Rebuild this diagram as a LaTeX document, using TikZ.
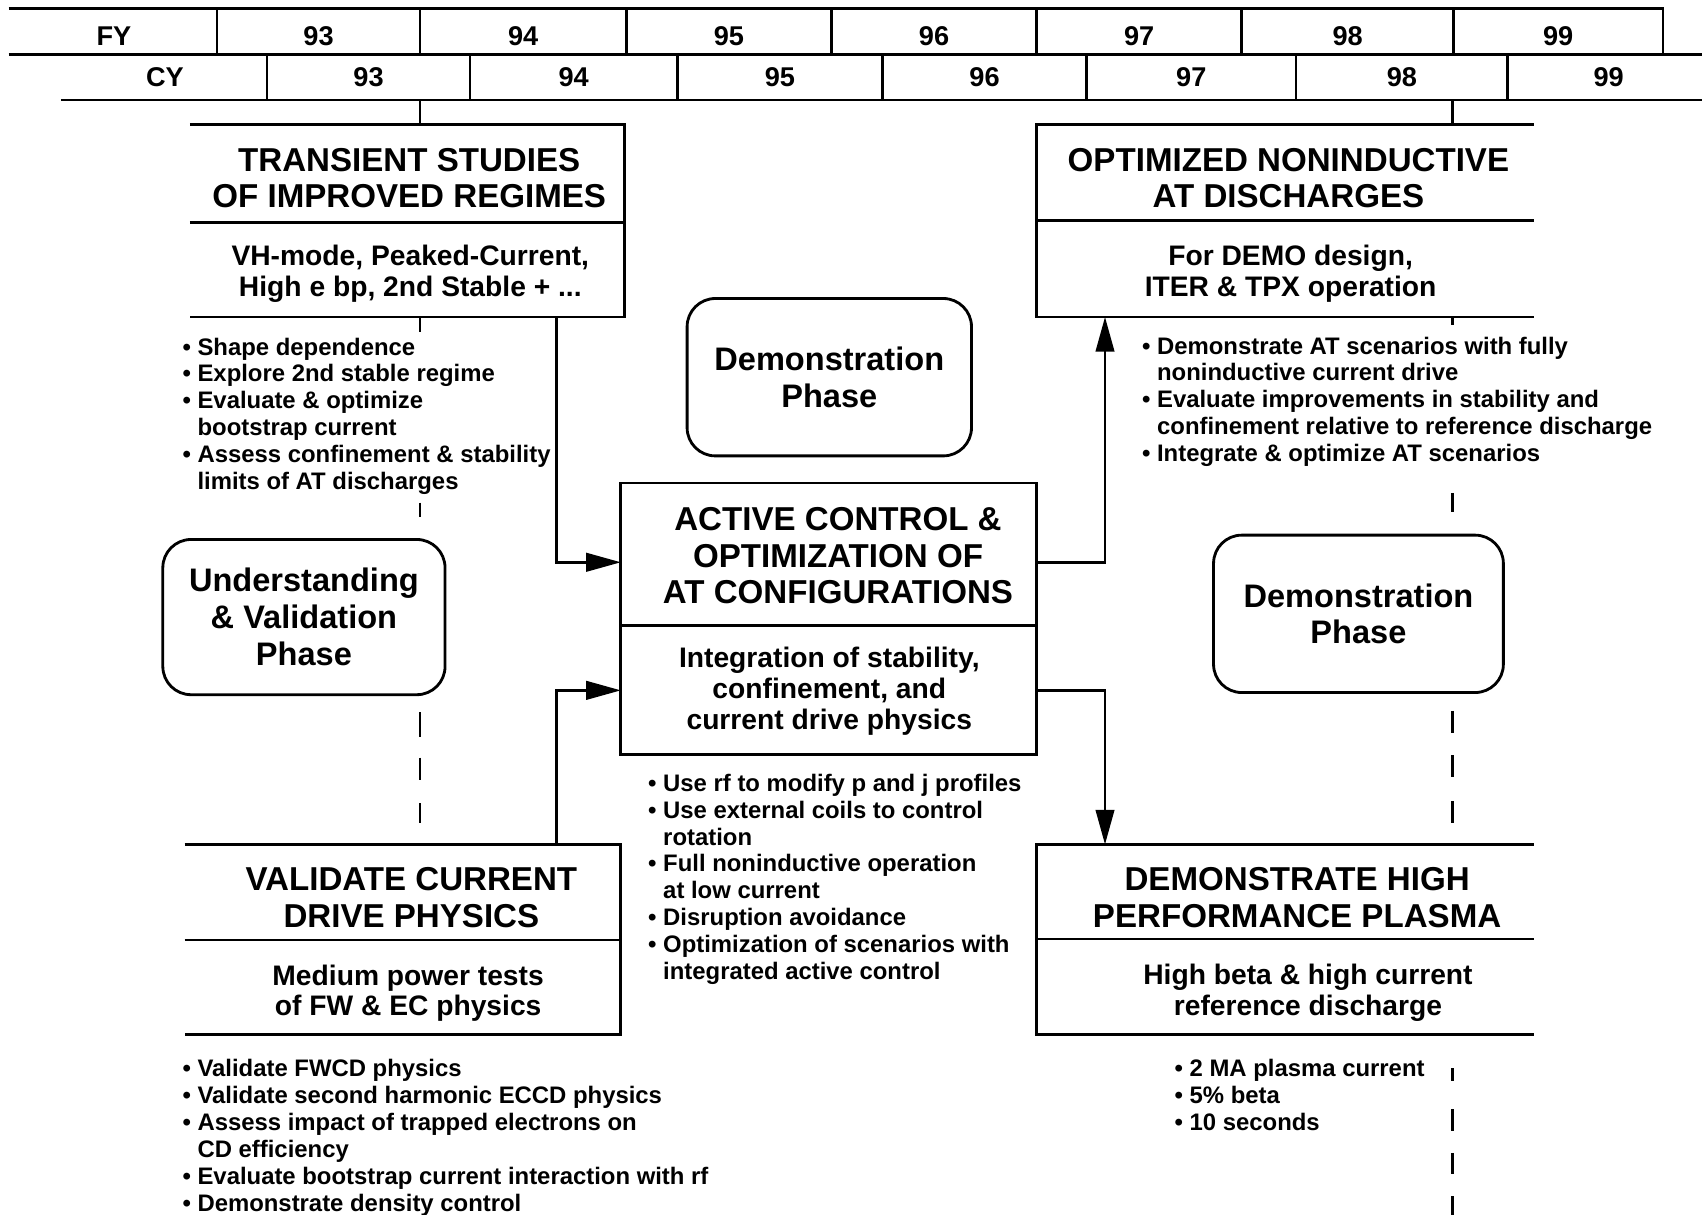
\documentclass[tikz,border=0pt]{standalone}
\usepackage{fontspec}
\setmainfont{Liberation Sans}
\usetikzlibrary{arrows.meta,fit}
\newcommand\bi{\textbullet\ }
\newcommand\ci{\phantom{\textbullet\ }}
\begin{document}
\begin{tikzpicture}[x=1pt,y=-1pt,
  every node/.style={inner sep=0pt},
  frame/.style={line width=2.6pt},
  rule/.style={line width=2.4pt},
  conn/.style={line width=2.6pt, -{Triangle[length=32pt,width=17pt]}},
  dsh/.style={line width=2.6pt},
  hdr/.style={font=\fontsize{25}{28}\selectfont\bfseries},
  ttl/.style={align=center, font=\fontsize{30.5}{33.5}\selectfont\bfseries},
  subt/.style={align=center, font=\fontsize{26}{28.5}\selectfont\bfseries},
  phase/.style={draw, line width=2.6pt, rounded corners=26pt, align=center, font=\fontsize{30}{34}\selectfont\bfseries},
  bul/.style={align=left, anchor=north west, font=\fontsize{22}{24.7}\selectfont\bfseries},
  area/.style={inner sep=0pt, outer sep=0pt}]
\useasboundingbox (0,0) rectangle (1568,1119);

% ---------- header ----------
\draw[rule] (8,8) -- (1532,8) -- (1532,50);
\draw[rule] (8,50) -- (1568,50);
\draw[rule] (56,92) -- (1568,92);
\foreach \x in {200,387,577,766,955,1144,1339} \draw[rule] (\x,8) -- (\x,50);
\foreach \x in {246,433,624,813,1001,1194,1389} \draw[rule] (\x,50) -- (\x,92);
\node[hdr] (fy) at (105,33) {FY};
\foreach \x/\t in {293.5/93,482/94,671.5/95,860.5/96,1049.5/97,1241.5/98,1435.5/99}
  \node[hdr] (fy\t) at (\x,33) {\t};
\node[hdr] (cy) at (152,71) {CY};
\foreach \x/\t in {339.5/93,528.5/94,718.5/95,907/96,1097.5/97,1291.5/98,1482/99}
  \node[hdr] (cy\t) at (\x,71) {\t};

% ---------- box areas ----------
\node[area, fit={(175,115) (575,292)}] (ts) {};
\node[area, fit={(955,115) (1413,292)}] (opt) {};
\node[area, fit={(572,445) (955,695)}] (ac) {};
\node[area, fit={(170,778) (572,953)}] (vc) {};
\node[area, fit={(955,778) (1413,953)}] (dh) {};

% transient studies
\draw[frame] (ts.north west) -- (ts.north east) -- (ts.south east) -- (ts.south west);
\draw[frame] (ts.west |- 0,205) -- (ts.east |- 0,205);
\node[ttl] (tst) at (377,164) {TRANSIENT STUDIES\\OF IMPROVED REGIMES};
\node[subt] (tss) at (378,252) {VH-mode, Peaked-Current,\\High e bp, 2nd Stable + ...};
\node[bul] (tsb) at (168,311) {\bi Shape dependence\\\bi Explore 2nd stable regime\\\bi Evaluate \& optimize\\\ci bootstrap current\\\bi Assess confinement \& stability\\\ci limits of AT discharges};

% optimized noninductive
\draw[frame] (opt.north east) -- (opt.north west) -- (opt.south west) -- (opt.south east);
\draw[frame] (opt.west |- 0,203) -- (opt.east |- 0,203);
\node[ttl] (optt) at (1187,164) {OPTIMIZED NONINDUCTIVE\\AT DISCHARGES};
\node[subt] (opts) at (1189,252) {For DEMO design,\\ITER \& TPX operation};
\node[bul] (optb) at (1052,310) {\bi Demonstrate AT scenarios with fully\\\ci noninductive current drive\\\bi Evaluate improvements in stability and\\\ci confinement relative to reference discharge\\\bi Integrate \& optimize AT scenarios};

% active control
\draw[frame] (ac.north west) rectangle (ac.south east);
\draw[frame] (ac.west |- 0,576) -- (ac.east |- 0,576);
\node[ttl] (act) at (772,512) {ACTIVE CONTROL \&\\OPTIMIZATION OF\\AT CONFIGURATIONS};
\node[subt] (acs) at (764,637) {Integration of stability,\\confinement, and\\current drive physics};
\node[bul] (acb) at (597,713) {\bi Use rf to modify p and j profiles\\\bi Use external coils to control\\\ci rotation\\\bi Full noninductive operation\\\ci at low current\\\bi Disruption avoidance\\\bi Optimization of scenarios with\\\ci integrated active control};

% validate current drive
\draw[frame] (vc.north west) -- (vc.north east) -- (vc.south east) -- (vc.south west);
\draw[frame] (vc.west |- 0,866) -- (vc.east |- 0,866);
\node[ttl] (vct) at (379,827) {VALIDATE CURRENT\\DRIVE PHYSICS};
\node[subt] (vcs) at (376,915) {Medium power tests\\of FW \& EC physics};
\node[bul] (vcb) at (168,976) {\bi Validate FWCD physics\\\bi Validate second harmonic ECCD physics\\\bi Assess impact of trapped electrons on\\\ci CD efficiency\\\bi Evaluate bootstrap current interaction with rf\\\bi Demonstrate density control};

% demonstrate high performance
\draw[frame] (dh.north east) -- (dh.north west) -- (dh.south west) -- (dh.south east);
\draw[frame] (dh.west |- 0,865) -- (dh.east |- 0,865);
\node[ttl] (dht) at (1195,827) {DEMONSTRATE HIGH\\PERFORMANCE PLASMA};
\node[subt] (dhs) at (1205,915) {High beta \& high current\\reference discharge};
\node[bul] (dhb) at (1082,976) {\bi 2 MA plasma current\\\bi 5\% beta\\\bi 10 seconds};

% phase boxes
\node[phase, minimum width=262pt, minimum height=145pt] (dp1) at (764,347.5) {Demonstration\\Phase};
\node[phase, minimum width=260pt, minimum height=143pt] (uv) at (280,568.5) {Understanding\\\& Validation\\Phase};
\node[phase, minimum width=267pt, minimum height=145pt] (dp2) at (1251.5,565.5) {Demonstration\\Phase};

% connectors
\coordinate (cl) at (513,0);
\coordinate (cr) at (1018,0);
\coordinate (ha) at (0,518);
\coordinate (hb) at (0,636);
\draw[conn] (ts.south -| cl) |- (ac.west |- ha);
\draw[conn] (vc.north -| cl) |- (ac.west |- hb);
\draw[conn] (ac.east |- ha) -| (opt.south -| cr);
\draw[conn] (ac.east |- hb) -| (dh.north -| cr);

% phase time lines
\coordinate (tl) at (387,0);
\coordinate (tr) at (1338,0);
\foreach \a/\b in {92/115,292/306,463/476,656/679,698/719,740/758}
  \draw[dsh] (tl |- 0,\a) -- (tl |- 0,\b);
\foreach \a/\b in {92/115,292/299,454/472,655/675,696/716,738/758,984/996,1022/1042,1062/1082,1102/1119}
  \draw[dsh] (tr |- 0,\a) -- (tr |- 0,\b);
\end{tikzpicture}
\end{document}
